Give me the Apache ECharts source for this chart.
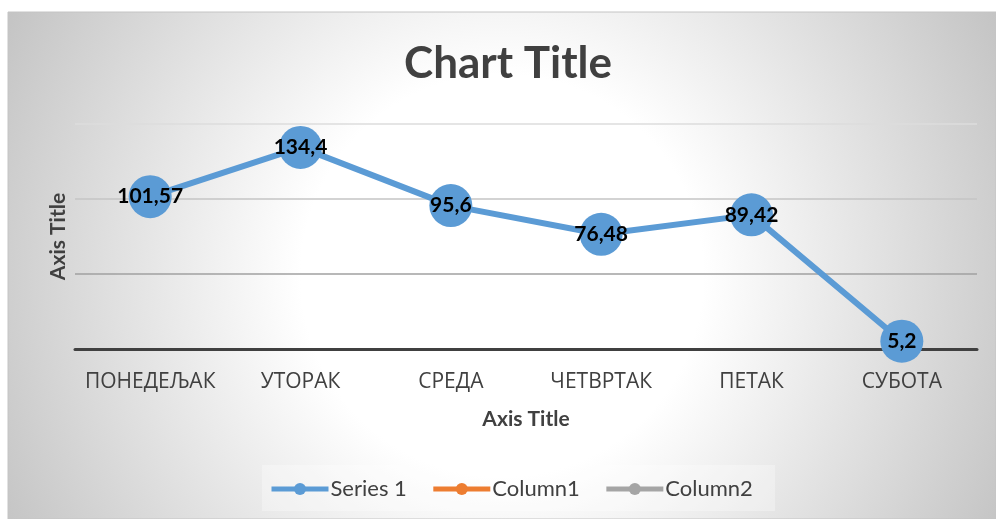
<!DOCTYPE html>
<html>
<head>
<meta charset="utf-8">
<script src="https://cdn.jsdelivr.net/npm/echarts@6/dist/echarts.min.js"></script>
<style>
  html, body { margin: 0; padding: 0; background: #fff; }
  #chart { width: 996px; height: 519px; }
</style>
</head>
<body>
<div id="chart"></div>
<script>
// data
const days = ['ПОНЕДЕЉАК', 'УТОРАК', 'СРЕДА', 'ЧЕТВРТАК', 'ПЕТАК', 'СУБОТА']
const series1 = [101.57, 134.4, 95.6, 76.48, 89.42, 5.2]
const column1 = []
const column2 = []

const font = 'Lato, "Open Sans", "Noto Sans", sans-serif'
const cyrFont = '"Open Sans", "Noto Sans", sans-serif'
const textGray = '#404040'

const myChart = echarts.init(document.getElementById('chart'))

const option = {
	animation: false,
	textStyle: { fontFamily: font },
	graphic: [
		{
			type: 'rect',
			z: -10,
			silent: true,
			shape: { x: 8, y: 12, width: 988, height: 507 },
			style: {
				fill: new echarts.graphic.RadialGradient(0.5, 0.52, 1.1, [
					{ offset: 0, color: '#ffffff' },
					{ offset: 0.36, color: '#ffffff' },
					{ offset: 1, color: '#c4c4c4' }
				]),
				stroke: '#c4c4c4',
				lineWidth: 1
			}
		},
		{
			type: 'rect',
			z: -9,
			silent: true,
			shape: { x: 262, y: 465, width: 513, height: 46 },
			style: { fill: 'rgba(255,255,255,0.3)' }
		}
	],
	title: {
		text: 'Chart Title',
		left: 503,
		top: 37,
		textAlign: 'center',
		textStyle: { fontSize: 44, fontWeight: 'bold', color: textGray, fontFamily: font }
	},
	legend: {
		bottom: 14,
		left: 264,
		itemWidth: 57,
		itemHeight: 15,
		itemGap: 24,
		lineStyle: { width: 5 },
		textStyle: { fontSize: 22, color: textGray, fontFamily: font, padding: [0, 0, 0, -3] },
		data: ['Series 1', 'Column1', 'Column2']
	},
	grid: {
		left: 75,
		right: 19,
		top: 124,
		bottom: 170,
		containLabel: false
	},
	xAxis: {
		type: 'category',
		data: days,
		name: 'Axis Title',
		nameLocation: 'middle',
		nameGap: 60,
		nameTextStyle: { fontSize: 21, fontWeight: 'bold', color: textGray, fontFamily: font },
		axisLine: { lineStyle: { color: '#404040', width: 3 } },
		axisTick: { show: false },
		axisLabel: { interval: 0, fontSize: 21, color: textGray, margin: 23, fontFamily: cyrFont }
	},
	yAxis: {
		type: 'value',
		min: 0,
		max: 150,
		interval: 50,
		name: 'Axis Title',
		nameLocation: 'middle',
		nameGap: 6,
		nameTextStyle: { fontSize: 21, fontWeight: 'bold', color: textGray, fontFamily: font },
		axisLine: { show: false },
		axisTick: { show: false },
		axisLabel: { show: false },
		splitLine: { lineStyle: { color: ['#404040', '#a0a0a0', '#c4c4c4', '#dcdcdc'], width: 1.5 } }
	},
	series: [
		{
			name: 'Series 1',
			type: 'line',
			data: series1,
			color: '#5b9bd5',
			symbol: 'circle',
			symbolSize: 43,
			lineStyle: { width: 6 },
			label: {
				show: true,
				position: 'inside',
				fontSize: 21,
				fontWeight: 'bold',
				color: '#000',
				fontFamily: font,
				formatter: p => String(p.value).replace('.', ',')
			}
		},
		{
			name: 'Column1',
			type: 'line',
			data: column1,
			color: '#ed7d31',
			symbol: 'circle',
			lineStyle: { width: 6 }
		},
		{
			name: 'Column2',
			type: 'line',
			data: column2,
			color: '#a5a5a5',
			symbol: 'circle',
			lineStyle: { width: 6 }
		}
	]
}

myChart.setOption(option)
</script>
</body>
</html>
